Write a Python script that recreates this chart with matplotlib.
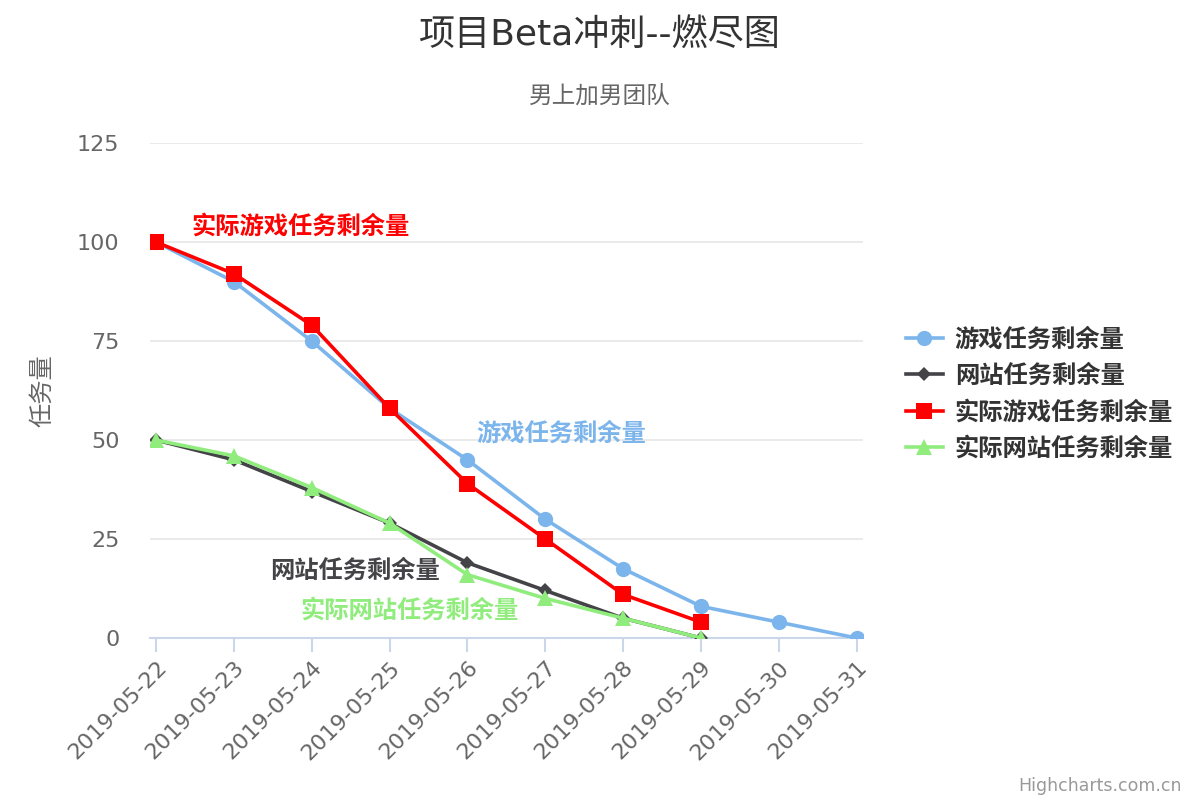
import numpy as np
import matplotlib
matplotlib.use("Agg")
from matplotlib import pyplot as plt

plt.rcParams['font.family'] = ['DejaVu Sans', 'Noto Sans CJK SC']

# data
dates = ["2019-05-22", "2019-05-23", "2019-05-24", "2019-05-25", "2019-05-26",
         "2019-05-27", "2019-05-28", "2019-05-29", "2019-05-30", "2019-05-31"]
game_plan = [100, 90, 75, 58, 45, 30, 17.5, 8, 4, 0]
site_plan = [50, 45, 37, 29, 19, 12, 5, 0]
game_real = [100, 92, 79, 58, 39, 25, 11, 4]
site_real = [50, 46, 38, 29, 16, 10, 5, 0]

names = ["游戏任务剩余量", "网站任务剩余量", "实际游戏任务剩余量", "实际网站任务剩余量"]
colors = ["#7cb5ec", "#434348", "#ff0000", "#90ed7d"]
markers = ["o", "D", "s", "^"]
sizes = [11, 7.5, 11, 11]
series = [game_plan, site_plan, game_real, site_real]
# where the series-label text sits (category index, value)
label_pos = [(5.2, 51.5), (2.55, 17), (1.85, 104), (3.25, 7)]

fig = plt.figure(figsize=(12, 8), dpi=100)
ax = fig.add_axes([0.125, 0.2025, 0.594, 0.6185])

for vals, name, c, m, s in zip(series, names, colors, markers, sizes):
    x = np.arange(len(vals))
    ax.plot(x, vals, color=c, marker=m, markersize=s, linewidth=2.6,
            label=name, markeredgewidth=0, zorder=3)

for (lx, ly), name, c in zip(label_pos, names, colors):
    ax.text(lx, ly, name, color=c, fontsize=17.5, fontweight="bold",
            ha="center", va="center", zorder=4)

ax.set_xlim(-0.08, len(dates) - 1 + 0.08)
ax.set_ylim(0, 125)
ax.set_yticks(np.arange(0, 126, 25))
ax.set_xticks(np.arange(len(dates)))
ax.set_xticklabels(dates, rotation=45, ha="right", rotation_mode="anchor")
ax.grid(axis="y", color="#e6e6e6", linewidth=1.2)
ax.set_axisbelow(True)
for sp in ["top", "right", "left"]:
    ax.spines[sp].set_visible(False)
ax.spines["bottom"].set_color("#ccd6eb")
ax.spines["bottom"].set_linewidth(1.5)
ax.tick_params(axis="x", colors="#ccd6eb", length=10, width=1.5, labelcolor="#666666",
               labelsize=16, pad=4)
ax.tick_params(axis="y", length=0, labelcolor="#666666", labelsize=16, pad=22)
ax.set_ylabel("任务量", color="#666666", fontsize=17.5, labelpad=16)

fig.text(0.5, 0.956, "项目Beta冲刺--燃尽图", ha="center", va="center",
         fontsize=26, color="#333333")
fig.text(0.5, 0.879, "男上加男团队", ha="center", va="center",
         fontsize=17, color="#666666")
fig.text(0.985, 0.018, "Highcharts.com.cn", ha="right", va="center",
         fontsize=12.5, color="#999999")

leg = ax.legend(loc="center left", bbox_to_anchor=(1.03, 0.493), frameon=False,
                prop={"size": 17.5, "weight": "bold"}, handlelength=1.5,
                labelspacing=0.5, handletextpad=0.5)
for t in leg.get_texts():
    t.set_color("#333333")

fig.savefig("out.png", dpi=100)
